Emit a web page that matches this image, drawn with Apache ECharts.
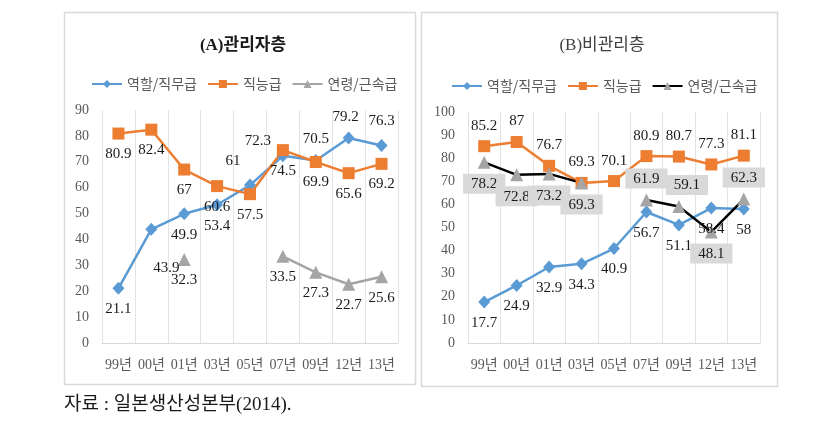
<!DOCTYPE html>
<html><head><meta charset="utf-8">
<script src="https://cdn.jsdelivr.net/npm/echarts@6/dist/echarts.min.js"></script>
<style>html,body{margin:0;padding:0;background:#fff}#c{width:831px;height:446px}</style>
</head><body><div id="c"></div>
<script>
const categories = ['99년','00년','01년','03년','05년','07년','09년','12년','13년'];
const seriesNames = ['역할/직무급','직능급','연령/근속급'];
// (A) 관리자층
const mgrRole  = [21.1, 43.9, 49.9, 53.4, 61, 72.3, 70.5, 79.2, 76.3];
const mgrSkill = [80.9, 82.4, 67, 60.6, 57.5, 74.5, 69.9, 65.6, 69.2];
const mgrAge   = [null, null, 32.3, null, null, 33.5, 27.3, 22.7, 25.6];
// (B) 비관리층
const staffRole  = [17.7, 24.9, 32.9, 34.3, 40.9, 56.7, 51.1, 58.4, 58];
const staffSkill = [85.2, 87, 76.7, 69.3, 70.1, 80.9, 80.7, 77.3, 81.1];
const staffAge   = [78.2, 72.8, 73.2, 69.3, null, 61.9, 59.1, 48.1, 62.3];
const yTicksA = {min:0, max:90, interval:10};
const yTicksB = {min:0, max:100, interval:10};

// label placement (layout only)
const posMgrRole = ['bottom','bottom','bottom','bottom','top','top','top','top','top'];
const offMgrRole = [null,[15,18],null,null,[-17,-3],[-25,6],null,[-3,0],[0,-3]];
const posStaffAge = ['bottom','bottom','bottom','bottom','bottom','top','top','bottom','top'];
const offStaffAge = [null,null,null,null,null,null,[8,0],null,null];

const BLUE='#5b9bd5', ORANGE='#ed7d31', GRAY='#a5a5a5';
const numFont = '"Liberation Serif", "Noto Sans CJK KR", serif';
const krFont = '"Noto Sans CJK KR", sans-serif';

function items(vals, pos, off){
  return vals.map((v,i)=>{
    const it = {value: v==null?'-':v};
    const lab = {};
    if (pos) lab.position = pos[i];
    if (off && off[i]) lab.offset = off[i];
    it.label = lab;
    return it;
  });
}
const baseLabel = {show:true, fontFamily:numFont, fontSize:15, color:'#1a1a1a', distance:7};

function xAxis(gi){
  return {type:'category', gridIndex:gi, data:categories, boundaryGap:true,
    axisLine:{lineStyle:{color:'#d9d9d9'}}, axisTick:{show:false},
    splitLine:{show:true, lineStyle:{color:'#e3e3e3'}},
    axisLabel:{color:'#595959', fontFamily:numFont, fontSize:14, margin:15, interval:0}};
}
function yAxis(gi, t){
  return {type:'value', gridIndex:gi, min:t.min, max:t.max, interval:t.interval,
    axisLine:{show:false}, axisTick:{show:false}, splitLine:{show:false},
    axisLabel:{color:'#595959', fontFamily:numFont, fontSize:14, margin:13}};
}
function lineS(name, gi, data, color, symbol, size, labelExtra, lineColor){
  return {type:'line', name, xAxisIndex:gi, yAxisIndex:gi, data, connectNulls:false,
    symbol, symbolSize:size, showAllSymbol:true,
    lineStyle:{color:lineColor||color, width:2.5},
    itemStyle:{color:color},
    label:Object.assign({}, baseLabel, labelExtra||{}),
    emphasis:{disabled:true}, animation:false};
}

const chart = echarts.init(document.getElementById('c'), null, {renderer:'canvas'});
chart.setOption({
  backgroundColor:'#fff',
  animation:false,
  title:[
    {text:'(A)관리자층', left:238, top:32, textAlign:'center',
     textStyle:{fontFamily:'"Liberation Serif", "Noto Sans CJK KR", serif', fontSize:17, fontWeight:'bold', color:'#1a1a1a'}},
    {text:'(B)비관리층', left:597, top:32, textAlign:'center',
     textStyle:{fontFamily:'"Liberation Serif", "Noto Sans CJK KR", serif', fontSize:17, fontWeight:'normal', color:'#404040'}}
  ],
  legend:[
    {seriesIndex:[0,1,2], data:seriesNames.map(n=>n), left:86, top:72, itemWidth:30, itemHeight:10, itemGap:10,
     textStyle:{fontFamily:krFont, fontSize:14, color:'#595959'}, selectedMode:false},
    {data:seriesNames.map(n=>n+' '), left:446, top:74, itemWidth:30, itemHeight:10, itemGap:10,
     textStyle:{fontFamily:krFont, fontSize:14, color:'#595959'}, selectedMode:false,
     formatter:n=>n.trim()}
  ],
  grid:[
    {left:102, right:433, top:110, bottom:103},
    {left:468, right:71, top:112, bottom:103}
  ],
  xAxis:[xAxis(0), xAxis(1)],
  yAxis:[yAxis(0,yTicksA), yAxis(1,yTicksB)],
  series:[
    lineS(seriesNames[0], 0, items(mgrRole, posMgrRole, offMgrRole), BLUE, 'diamond', [12,13]),
    lineS(seriesNames[1], 0, items(mgrSkill), ORANGE, 'rect', 12, {position:'bottom'}),
    lineS(seriesNames[2], 0, items(mgrAge), GRAY, 'triangle', 13, {position:'bottom'}),
    lineS(seriesNames[0]+' ', 1, items(staffRole), BLUE, 'diamond', [12,13], {position:'bottom'}),
    lineS(seriesNames[1]+' ', 1, items(staffSkill), ORANGE, 'rect', 12, {position:'top'}),
    lineS(seriesNames[2]+' ', 1, items(staffAge, posStaffAge, offStaffAge), GRAY, 'triangle', 13,
      {backgroundColor:'#d9d9d9', padding:[3,8,2,8], distance:5}, '#000000')
  ],
  graphic:[
    {type:'rect', shape:{x:64.5, y:12.5, width:351, height:372}, style:{fill:'none', stroke:'#d9d9d9', lineWidth:1.5}, silent:true},
    {type:'rect', shape:{x:421.5, y:12.5, width:356, height:374}, style:{fill:'none', stroke:'#d9d9d9', lineWidth:1.5}, silent:true},
    {type:'text', left:64, top:396, style:{text:'자료 : 일본생산성본부(2014).', fontFamily:'"Liberation Serif", "Noto Sans CJK KR", serif', fontSize:19, fill:'#1a1a1a'}, silent:true}
  ]
});
</script></body></html>
